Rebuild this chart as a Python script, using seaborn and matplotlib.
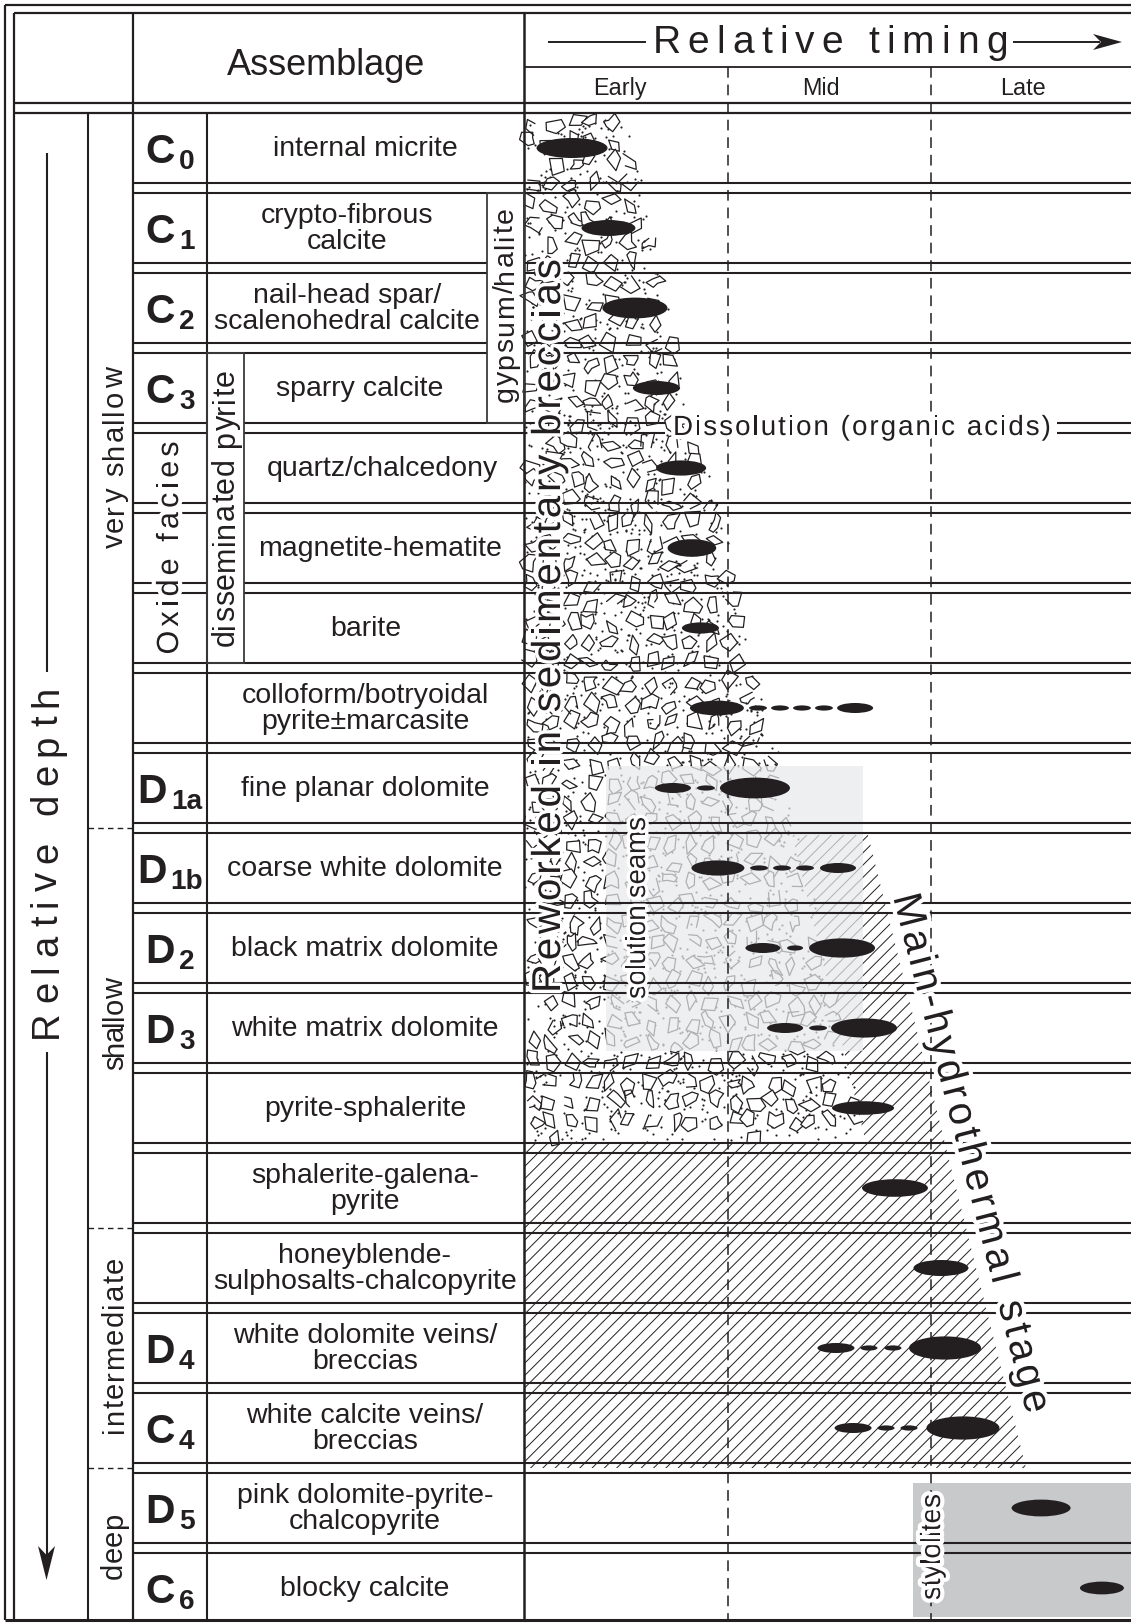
import matplotlib
matplotlib.use("Agg")
import numpy as np
import matplotlib.pyplot as plt
import seaborn as sns
from matplotlib import transforms as mtransforms, patheffects as pe
from matplotlib.font_manager import FontProperties, findfont
from matplotlib.patches import Ellipse, Polygon, Rectangle
from matplotlib.collections import LineCollection, PolyCollection

# ---------------------------------------------------------------- data
assemblages = [
    "internal micrite",
    "crypto-fibrous\ncalcite",
    "nail-head spar/\nscalenohedral calcite",
    "sparry calcite",
    "quartz/chalcedony",
    "magnetite-hematite",
    "barite",
    "colloform/botryoidal\npyrite±marcasite",
    "fine planar dolomite",
    "coarse white dolomite",
    "black matrix dolomite",
    "white matrix dolomite",
    "pyrite-sphalerite",
    "sphalerite-galena-\npyrite",
    "honeyblende-\nsulphosalts-chalcopyrite",
    "white dolomite veins/\nbreccias",
    "white calcite veins/\nbreccias",
    "pink dolomite-pyrite-\nchalcopyrite",
    "blocky calcite",
]
code_main = ["C", "C", "C", "C", "", "", "", "", "D", "D", "D", "D", "", "", "", "D", "C", "D", "C"]
code_sub = ["0", "1", "2", "3", "", "", "", "", "1a", "1b", "2", "3", "", "", "", "4", "4", "5", "6"]

timing_labels = ["Early", "Mid", "Late"]
depth_zones = ["very shallow", "shallow", "intermediate", "deep"]
depth_breaks = [9, 14, 17]          # row boundaries between depth zones

# timing marks: row index, centre (timing units: Early 0-1, Mid 1-2, Late 2-3),
# length (timing units), thickness (fraction of a row)
mark_row = [0, 1, 2, 3, 4, 5, 6,
            7, 7, 7, 7, 7, 7,
            8, 8, 8,
            9, 9, 9, 9, 9,
            10, 10, 10,
            11, 11, 11,
            12, 13, 14,
            15, 15, 15, 15,
            16, 16, 16, 16,
            17, 18]
mark_x = [0.236, 0.415, 0.545, 0.651, 0.772, 0.825, 0.867,
          0.948, 1.150, 1.258, 1.366, 1.474, 1.627,
          0.732, 0.894, 1.135,
          0.953, 1.155, 1.268, 1.381, 1.543,
          1.174, 1.332, 1.563,
          1.283, 1.445, 1.671,
          1.666, 1.823, 2.049,
          1.533, 1.695, 1.813, 2.069,
          1.617, 1.779, 1.892, 2.157,
          2.541, 2.840]
mark_w = [0.349, 0.265, 0.320, 0.232, 0.246, 0.239, 0.182,
          0.265, 0.088, 0.088, 0.088, 0.088, 0.177,
          0.177, 0.088, 0.344,
          0.260, 0.088, 0.088, 0.088, 0.177,
          0.172, 0.079, 0.324,
          0.177, 0.088, 0.324,
          0.305, 0.324, 0.270,
          0.182, 0.084, 0.084, 0.354,
          0.182, 0.084, 0.084, 0.359,
          0.290, 0.216]
mark_h = [0.25, 0.20, 0.26, 0.175, 0.19, 0.22, 0.14,
          0.185, 0.065, 0.065, 0.065, 0.065, 0.125,
          0.125, 0.065, 0.26,
          0.19, 0.065, 0.065, 0.065, 0.125,
          0.125, 0.065, 0.24,
          0.125, 0.065, 0.24,
          0.17, 0.22, 0.20,
          0.125, 0.065, 0.065, 0.29,
          0.125, 0.065, 0.065, 0.29,
          0.21, 0.16]

# ---------------------------------------------------------------- setup
sns.set_theme(style="white")
SANS = "Liberation Sans"
plt.rcParams["font.family"] = [SANS, "DejaVu Sans"]
INK = "#231f20"


def font_ok(name):
    try:
        findfont(FontProperties(family=name), fallback_to_default=False)
        return True
    except Exception:
        return False


HAS_NARROW = font_ok("Liberation Sans Narrow")
NARROW = "Liberation Sans Narrow" if HAS_NARROW else SANS
NSCALE = 1.0 if HAS_NARROW else 0.84

W, H = 1131, 1623
fig = plt.figure(figsize=(W / 100, H / 100), dpi=100)
fig.patch.set_facecolor("white")
ax = fig.add_axes([0, 0, 1, 1])
ax.set_axis_off()

# timing scale: one unit per stage, one row per assemblage
X0, UX = 524.0, 203.5          # pixel position of "Early" start, pixels per stage
Y0, UY = 108.0, 80.0           # pixel position of first row boundary, pixels per row
ax.set_xlim(-X0 / UX, (W - X0) / UX)
ax.set_ylim((H - Y0) / UY, -Y0 / UY)
ax.autoscale(False)

# pixel transform for the table frame (origin top-left, y down)
P = mtransforms.Affine2D().scale(1 / W, -1 / H).translate(0, 1) + fig.transFigure
XP = mtransforms.blended_transform_factory(ax.transData, P)
renderer = fig.canvas.get_renderer()


def bpx(k):
    """pixel y of row boundary k"""
    return Y0 + UY * k


def seg(x0, y0, x1, y1, lw=1.5, z=5, color=INK, **kw):
    ax.add_line(plt.Line2D([x0, x1], [y0, y1], transform=P, lw=lw, color=color,
                           zorder=z, solid_capstyle="butt", **kw))


def advance(ch, prop):
    w1 = renderer.get_text_width_height_descent("|" + ch + "|", prop, ismath=False)[0]
    w0 = renderer.get_text_width_height_descent("||", prop, ismath=False)[0]
    return w1 - w0


def tracked(text, bx, by, angle, length, prop, halo=None, z=7):
    """letter-spaced text whose baseline is centred on (bx, by)"""
    adv = np.array([advance(c, prop) for c in text])
    gap = (length - adv.sum()) / (len(text) - 1)
    th = np.deg2rad(angle)
    d = np.array([np.cos(th), -np.sin(th)])
    start = np.array([bx, by]) - d * length / 2
    effects = [pe.withStroke(linewidth=halo, foreground="white")] if halo else None
    pos = 0.0
    for c, a in zip(text, adv):
        if c != " ":
            x, y = start + d * pos
            ax.text(x, y, c, transform=P, rotation=angle, rotation_mode="anchor",
                    ha="left", va="baseline", fontproperties=prop, color=INK,
                    zorder=z, path_effects=effects)
        pos += a + gap


def fp(size, family=SANS, weight="normal"):
    return FontProperties(family=family, size=size, weight=weight)


# ---------------------------------------------------------------- frame
gap2 = 4.7
# outer border
seg(5, 5, W, 5, lw=1.6)
seg(13.6, 12.7, W, 12.7, lw=1.6)
seg(5, 5, 5, 1620, lw=1.6)
seg(13.6, 12.7, 13.6, 1620, lw=1.6)
seg(5, 1620, W, 1620, lw=2.2)
# header bottom
seg(13.6, bpx(0) - gap2, W, bpx(0) - gap2, lw=1.6)
seg(13.6, bpx(0) + gap2, W, bpx(0) + gap2, lw=1.6)
# main verticals
seg(132.5, 12.7, 132.5, 1620, lw=1.6)
seg(X0, 12.7, X0, 1620, lw=1.8)
seg(88, bpx(0) + gap2, 88, 1620, lw=1.5)
seg(207, bpx(0) + gap2, 207, 1620, lw=1.5)
# timing header rule
seg(X0, 67, W, 67, lw=1.3)

# row boundaries (double rules)
for k in range(1, 19):
    y = bpx(k)
    pieces = [(132.5, W)]
    if k in (2, 3):
        pieces = [(132.5, 487), (X0, W)]
    if k in (5, 6):
        pieces = [(132.5, 207), (244, W)]
    if k == 4:
        pieces = [(132.5, 207), (244, 665), (1057, W)]
    for x0, x1 in pieces:
        seg(x0, y - gap2, x1, y - gap2, lw=1.5)
        seg(x0, y + gap2, x1, y + gap2, lw=1.5)

# merged side cells
ax.add_patch(Rectangle((207, bpx(3) + gap2), 37, bpx(7) - bpx(3) - 2 * gap2, transform=P,
                       fc="none", ec="#3a3a3a", lw=1.3, zorder=5))
ax.add_patch(Rectangle((487, bpx(1) + gap2), 37, bpx(4) - bpx(1) - 2 * gap2, transform=P,
                       fc="none", ec="#3a3a3a", lw=1.3, zorder=5))

# depth zone separators
for k in depth_breaks:
    seg(88, bpx(k), 132.5, bpx(k), lw=1.0, linestyle=(0, (4, 3)))

# stage dividers
ax.vlines([1, 2], (67 - Y0) / UY, (1620 - Y0) / UY, colors=INK, linewidths=1.1,
          linestyles=[(0, (7, 4.5))], zorder=5)

# ---------------------------------------------------------------- header text
ax.text(326, 75, "Assemblage", transform=P, ha="center", va="baseline",
        fontproperties=fp(26), color=INK, zorder=7)
tracked("Relative timing", 830, 53, 0, 355, fp(28))
seg(548, 42, 646, 42, lw=1.4)
seg(1013, 42, 1100, 42, lw=1.4)
ax.add_patch(Polygon([(1122, 42), (1093, 34), (1101, 42), (1093, 50)], closed=True,
                     transform=P, fc=INK, ec="none", zorder=6))
for i, lab in enumerate(timing_labels):
    ax.text(i + 0.47 - 0.01 * i, 95, lab, transform=XP, ha="center", va="baseline",
            fontproperties=fp(20 * NSCALE, NARROW), color=INK, zorder=7)

# ---------------------------------------------------------------- left columns
# relative depth arrow
seg(46.5, 153, 46.5, 672, lw=1.5)
seg(46.5, 1052, 46.5, 1560, lw=1.5)
ax.add_patch(Polygon([(46.5, 1580), (38, 1546), (46.5, 1555), (55, 1546)], closed=True,
                     transform=P, fc=INK, ec="none", zorder=6))
tracked("Relative depth", 57, 862, 90, 352, fp(27.5))

# depth zones
tracked(depth_zones[0], 123, 458, 90, 181, fp(21))
tracked(depth_zones[1], 123, 1024, 90, 92, fp(21))
tracked(depth_zones[2], 123, 1345, 90, 176, fp(21))
tracked(depth_zones[3], 122, 1546, 90, 66, fp(21))

# facies / side columns
tracked("Oxide facies", 178, 548, 90, 213, fp(22), halo=6)
tracked("disseminated pyrite", 234, 508, 90, 277, fp(22))
tracked("gypsum/halite", 513, 305, 90, 195, fp(20.5))

# codes
pm = fp(35 * NSCALE, NARROW, "bold")
ps = fp(24 * NSCALE, NARROW, "bold")
for r, (m, s) in enumerate(zip(code_main, code_sub)):
    if not m:
        continue
    yc = bpx(r) + UY / 2
    wm = advance(m, pm)
    ws = renderer.get_text_width_height_descent(s, ps, ismath=False)[0]
    x0 = 170 - (wm + 4 + ws) / 2
    ax.text(x0, yc + 15, m, transform=P, ha="left", va="baseline", fontproperties=pm,
            color=INK, zorder=7)
    ax.text(x0 + wm + 4, yc + 21, s, transform=P, ha="left", va="baseline",
            fontproperties=ps, color=INK, zorder=7)

# assemblage names
label_x = [365, 347, 347, 360, 382, 380, 366] + [365] * 12
for r, (lab, lx) in enumerate(zip(assemblages, label_x)):
    ax.text(lx, bpx(r) + UY / 2 + 1, lab, transform=P, ha="center", va="center",
            multialignment="center", linespacing=0.98, fontproperties=fp(20.5),
            color=INK, zorder=7)

# ---------------------------------------------------------------- timing panel
# late stylolite zone
ax.add_patch(Rectangle((913, 1483), W - 913, 1617 - 1483, transform=P, fc="#c8c9cb",
                       ec="none", zorder=1))

# main hydrothermal stage: diagonal ruling
hatch_poly = Polygon([(X0, 835), (868, 835), (1026, bpx(17)), (X0, bpx(17))], closed=True,
                     fc="none", ec="none", transform=P)
ax.add_patch(hatch_poly)
cs = np.arange(X0 + 835, W + bpx(17) + 20, 12.3)
hatch = LineCollection([[(X0, c - X0), (W, c - W)] for c in cs], colors=INK,
                       linewidths=0.7, transform=P, zorder=2)
ax.add_collection(hatch)
hatch.set_clip_path(hatch_poly)

# sedimentary breccia texture
rng = np.random.default_rng(11)
by0, by1 = bpx(0) + gap2 + 1, bpx(13) - gap2


def edge(y):
    return 622 + (868 - 622) * (y - by0) / (by1 - by0)


ax.add_patch(Polygon([(X0, by0), (edge(by0) - 2, by0), (edge(by1) - 2, by1), (X0, by1)],
                     closed=True, transform=P, fc="white", ec="none", zorder=3))
dots = []
while len(dots) < 2000:
    x, y = rng.uniform(X0 + 1, 880), rng.uniform(by0 + 1, by1 - 1)
    if x < edge(y) + rng.uniform(-6, 6):
        dots.append((x, y))
dots = np.array(dots)
ax.scatter(dots[:, 0], dots[:, 1], s=2.4, c=INK, linewidths=0, transform=P, zorder=3.1)

closed, opened = [], []
step = 20
for gy in np.arange(by0 + 9, by1, step):
    for gx in np.arange(X0 + 8, 890, step):
        cx, cy = gx + rng.uniform(-5, 5), gy + rng.uniform(-5, 5)
        if cx > edge(cy) - 3 or cy > by1 - 4 or cy < by0 + 4 or cx < X0 + 5:
            continue
        n = rng.choice([4, 4, 5, 6])
        rot = rng.uniform(0, 2 * np.pi)
        ang = np.arange(n) * 2 * np.pi / n + rng.uniform(-0.35, 0.35, n)
        rad = rng.uniform(7.0, 11.5, n)
        if n == 6:
            rad[rng.integers(n)] *= 0.35          # notched fragment
        squash = rng.uniform(0.5, 0.95)
        vx, vy = rad * np.cos(ang), rad * np.sin(ang) * squash
        c, s = np.cos(rot), np.sin(rot)
        verts = np.column_stack([cx + vx * c - vy * s, cy + vx * s + vy * c])
        (opened if rng.random() < 0.18 else closed).append(verts)
ax.add_collection(PolyCollection(closed, facecolors="white", edgecolors=INK,
                                 linewidths=0.9, transform=P, zorder=3.2))
ax.add_collection(LineCollection(opened, colors=INK, linewidths=0.9, transform=P,
                                 zorder=3.2))

# solution seams overlay
ax.add_patch(Rectangle((606, 766), 863 - 606, 1051 - 766, transform=P, fc="#e8e9ec",
                       ec="none", alpha=0.72, zorder=4))

# timing marks
for r, x, w, h in zip(mark_row, mark_x, mark_w, mark_h):
    ax.add_patch(Ellipse((x, r + 0.5), w, h, fc=INK, ec="none", zorder=6))

# panel annotations
tracked("Reworked in sedimentary breccias", 560, 626, 90, 734, fp(29), halo=5)
tracked("solution seams", 645, 908, 90, 182, fp(24 * NSCALE, NARROW), halo=5)
th = np.deg2rad(-75.5)
L = 535
cxm = 893 + np.cos(th) * L / 2
cym = 897 - np.sin(th) * L / 2
tracked("Main-hydrothermal stage", cxm, cym, -75.5, L, fp(29), halo=6)
tracked("Dissolution (organic acids)", 862, 435, 0, 378, fp(20), halo=6)
tracked("stylolites", 940, 1547, 90, 106, fp(24 * NSCALE, NARROW), halo=6)

fig.savefig("out.png", dpi=100, facecolor="white")
